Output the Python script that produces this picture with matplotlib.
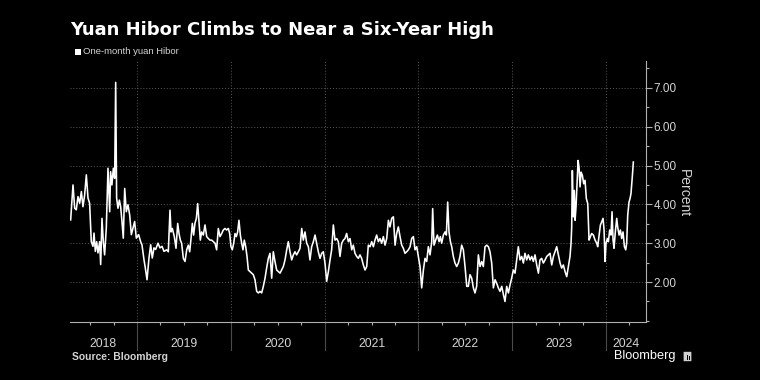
import matplotlib
matplotlib.use("Agg")
import matplotlib.pyplot as plt
from matplotlib.ticker import FixedLocator, MultipleLocator, NullFormatter
import matplotlib.patches as mpatches

plt.rcParams['font.family'] = ['Liberation Sans', 'DejaVu Sans']

# ---------------- data (decimal years, percent) ----------------
dates_2018 = [2018.293, 2018.318, 2018.336, 2018.353, 2018.371, 2018.389, 2018.407, 2018.424, 2018.442, 2018.460,
              2018.478, 2018.495, 2018.513, 2018.531, 2018.542, 2018.556, 2018.570, 2018.584, 2018.602, 2018.613,
              2018.627, 2018.641, 2018.655, 2018.673, 2018.691, 2018.709, 2018.719, 2018.733, 2018.748, 2018.762,
              2018.773, 2018.783, 2018.797, 2018.812, 2018.826, 2018.840, 2018.854, 2018.869, 2018.886, 2018.904,
              2018.922, 2018.940, 2018.957, 2018.975, 2018.993, 2019.018, 2019.039, 2019.053, 2019.075, 2019.089,
              2019.107, 2019.128, 2019.146, 2019.163, 2019.181, 2019.199, 2019.224, 2019.245, 2019.267, 2019.288]
hibor_2018 = [3.60, 4.50, 3.90, 3.86, 4.20, 4.03, 4.33, 3.94, 4.24, 4.76,
              4.16, 4.03, 3.04, 2.92, 3.26, 2.79, 3.04, 2.75, 3.04, 2.45,
              3.64, 3.04, 2.70, 3.39, 4.93, 3.81, 4.84, 4.50, 4.93, 4.67,
              7.14, 4.16, 3.90, 4.11, 3.94, 3.56, 3.13, 4.41, 3.81, 3.99,
              3.73, 3.22, 3.39, 3.56, 3.13, 3.22, 3.04, 2.96, 2.57, 2.36,
              2.06, 2.62, 2.96, 2.62, 2.88, 2.84, 3.00, 2.88, 2.92, 2.79]

dates_2019 = [2019.316, 2019.334, 2019.352, 2019.363, 2019.377, 2019.398, 2019.416, 2019.434, 2019.448, 2019.462,
              2019.476, 2019.494, 2019.512, 2019.530, 2019.547, 2019.562, 2019.576, 2019.590, 2019.604, 2019.618,
              2019.633, 2019.647, 2019.661, 2019.675, 2019.689, 2019.707, 2019.725, 2019.743, 2019.761, 2019.778,
              2019.796, 2019.814, 2019.832, 2019.849, 2019.867, 2019.885, 2019.903, 2019.920, 2019.938, 2019.956,
              2019.974, 2019.988, 2020.002, 2020.016, 2020.031, 2020.045, 2020.059, 2020.073, 2020.087, 2020.102,
              2020.116, 2020.130, 2020.144, 2020.159, 2020.173, 2020.187, 2020.205, 2020.223, 2020.240, 2020.258,
              2020.276, 2020.294, 2020.311, 2020.329, 2020.347, 2020.365]
hibor_2019 = [2.83, 2.78, 3.85, 3.29, 3.38, 3.17, 2.87, 3.51, 3.25, 3.08,
              3.00, 2.61, 2.53, 2.83, 2.95, 2.78, 3.12, 3.51, 3.21, 3.51,
              3.64, 4.02, 3.55, 3.08, 3.29, 3.21, 3.47, 3.17, 3.12, 3.08,
              3.08, 3.04, 3.00, 2.83, 3.38, 3.17, 3.25, 3.34, 3.38, 3.34,
              3.38, 3.25, 2.91, 2.83, 3.00, 3.25, 3.17, 3.29, 3.59, 3.21,
              3.00, 2.83, 3.08, 2.91, 2.66, 2.31, 2.27, 2.23, 2.19, 2.06,
              1.76, 1.72, 1.76, 1.72, 1.89, 2.10]

dates_2020 = [2020.382, 2020.400, 2020.418, 2020.436, 2020.453, 2020.471, 2020.489, 2020.507, 2020.525, 2020.542,
              2020.560, 2020.578, 2020.596, 2020.613, 2020.631, 2020.649, 2020.667, 2020.684, 2020.702, 2020.720,
              2020.738, 2020.756, 2020.773, 2020.791, 2020.809, 2020.827, 2020.844, 2020.862, 2020.880, 2020.898,
              2020.915, 2020.933, 2020.951, 2020.969, 2020.986, 2021.004, 2021.022, 2021.040, 2021.058, 2021.075,
              2021.093, 2021.111, 2021.129, 2021.146, 2021.164, 2021.182, 2021.200, 2021.217, 2021.235, 2021.253,
              2021.271, 2021.289, 2021.306, 2021.324, 2021.342, 2021.360, 2021.377]
hibor_2020 = [2.36, 2.61, 2.74, 2.10, 2.78, 2.53, 2.31, 2.27, 2.23, 2.31,
              2.40, 2.57, 2.83, 3.04, 2.78, 2.57, 2.70, 2.78, 2.70, 2.78,
              2.87, 3.38, 3.08, 3.29, 3.00, 2.91, 2.57, 2.91, 3.04, 3.21,
              3.00, 2.78, 2.61, 2.74, 2.78, 2.49, 2.02, 2.27, 2.57, 2.83,
              3.47, 3.08, 3.12, 3.04, 2.66, 3.00, 3.08, 3.12, 3.25, 3.04,
              3.12, 2.83, 2.95, 2.74, 2.66, 2.61, 2.70]

dates_2021 = [2021.395, 2021.413, 2021.431, 2021.449, 2021.466, 2021.484, 2021.502, 2021.520, 2021.537, 2021.555,
              2021.573, 2021.591, 2021.608, 2021.626, 2021.644, 2021.662, 2021.680, 2021.697, 2021.715, 2021.733,
              2021.751, 2021.768, 2021.786, 2021.804, 2021.822, 2021.839, 2021.857, 2021.875, 2021.893, 2021.911,
              2021.928, 2021.946, 2021.964, 2021.982, 2021.999, 2022.017, 2022.035, 2022.053, 2022.070, 2022.088,
              2022.106, 2022.124, 2022.142, 2022.152, 2022.166, 2022.184, 2022.202, 2022.220, 2022.234, 2022.248,
              2022.266, 2022.284, 2022.298, 2022.312, 2022.326, 2022.341, 2022.355, 2022.372, 2022.390]
hibor_2021 = [2.61, 2.44, 2.31, 2.40, 2.95, 2.91, 3.04, 2.91, 3.08, 3.21,
              3.04, 3.12, 3.00, 3.17, 2.95, 3.12, 3.59, 3.42, 3.64, 3.68,
              2.95, 3.25, 3.42, 3.17, 2.95, 2.87, 2.74, 2.78, 2.83, 2.91,
              3.12, 3.17, 2.83, 2.91, 2.66, 2.40, 1.85, 2.31, 2.61, 2.53,
              2.91, 2.70, 3.04, 3.89, 2.95, 3.08, 3.21, 3.04, 3.17, 3.00,
              3.21, 3.29, 3.21, 4.06, 3.29, 3.04, 2.91, 2.66, 2.49]

dates_2022 = [2022.408, 2022.426, 2022.443, 2022.461, 2022.479, 2022.497, 2022.515, 2022.532, 2022.550, 2022.568,
              2022.586, 2022.603, 2022.621, 2022.639, 2022.657, 2022.675, 2022.692, 2022.710, 2022.728, 2022.746,
              2022.763, 2022.781, 2022.799, 2022.817, 2022.834, 2022.852, 2022.870, 2022.888, 2022.906, 2022.923,
              2022.941, 2022.959, 2022.977, 2022.994, 2023.012, 2023.030, 2023.048, 2023.065, 2023.083, 2023.101,
              2023.119, 2023.136, 2023.154, 2023.172, 2023.190, 2023.208, 2023.225, 2023.243, 2023.261, 2023.279,
              2023.296, 2023.314, 2023.332, 2023.350, 2023.368, 2023.385, 2023.403]
hibor_2022 = [2.40, 2.49, 2.66, 2.95, 2.83, 2.40, 1.89, 1.89, 2.19, 2.10,
              1.85, 1.72, 1.89, 2.70, 2.40, 2.53, 2.40, 2.91, 2.95, 2.91,
              2.78, 2.49, 1.85, 2.06, 1.97, 1.85, 1.76, 1.89, 1.68, 1.50,
              1.89, 1.72, 1.93, 2.10, 2.31, 2.23, 2.57, 2.91, 2.57, 2.66,
              2.49, 2.74, 2.57, 2.70, 2.57, 2.66, 2.53, 2.70, 2.44, 2.23,
              2.57, 2.61, 2.49, 2.57, 2.66, 2.70, 2.74]

dates_2023 = [2023.421, 2023.439, 2023.456, 2023.474, 2023.492, 2023.510, 2023.527, 2023.545, 2023.563, 2023.581,
              2023.598, 2023.616, 2023.627, 2023.634, 2023.641, 2023.652, 2023.662, 2023.670, 2023.680, 2023.691,
              2023.702, 2023.712, 2023.723, 2023.734, 2023.748, 2023.762, 2023.776, 2023.790, 2023.805, 2023.819,
              2023.833, 2023.847, 2023.865, 2023.883, 2023.901, 2023.911, 2023.925, 2023.940, 2023.954, 2023.968,
              2023.979, 2023.989, 2024.000, 2024.014, 2024.025, 2024.039, 2024.053, 2024.064, 2024.075, 2024.085,
              2024.099, 2024.114, 2024.124, 2024.139, 2024.153, 2024.167, 2024.181, 2024.196, 2024.210, 2024.220,
              2024.231, 2024.245, 2024.256, 2024.266, 2024.281, 2024.291]
hibor_2023 = [2.44, 2.66, 2.78, 2.91, 2.70, 2.49, 2.36, 2.44, 2.27, 2.14,
              2.40, 2.66, 3.00, 3.42, 4.87, 3.68, 4.36, 3.59, 3.93, 4.53,
              5.13, 4.96, 4.45, 4.83, 4.74, 4.53, 4.62, 4.15, 4.02, 3.08,
              3.17, 3.25, 3.21, 3.08, 3.00, 2.91, 3.17, 3.47, 3.55, 3.64,
              3.34, 2.53, 3.00, 3.12, 3.04, 3.34, 3.21, 3.81, 3.08, 2.87,
              3.29, 3.64, 3.42, 3.21, 3.34, 3.12, 3.29, 2.91, 2.83, 3.00,
              3.72, 4.06, 4.15, 4.28, 4.74, 5.09]

year_labels = ['2018', '2019', '2020', '2021', '2022', '2023', '2024']
y_ticks = [2, 3, 4, 5, 6, 7]
x_range = (2018.286, 2024.426)
y_range = (0.98, 7.69)

title = 'Yuan Hibor Climbs to Near a Six-Year High'
series_name = 'One-month yuan Hibor'
source = 'Source: Bloomberg'

dates = dates_2018 + dates_2019 + dates_2020 + dates_2021 + dates_2022 + dates_2023
hibor = hibor_2018 + hibor_2019 + hibor_2020 + hibor_2021 + hibor_2022 + hibor_2023

# ---------------- figure ----------------
W, H = 760, 380
fig = plt.figure(figsize=(W / 100, H / 100), dpi=100, facecolor='black')
ax = fig.add_axes([70 / W, 1 - 321.7 / H, 576 / W, 260.7 / H])
ax.set_facecolor('black')

ax.plot(dates, hibor, color='white', lw=1.15, solid_joinstyle='round', zorder=3)
ax.set_xlim(*x_range)
ax.set_ylim(*y_range)

grid_col = '#5a5a5a'
axis_col = '#b0b0b0'
text_col = '#d4d4d4'

# y axis on the right
ax.yaxis.tick_right()
ax.set_yticks(y_ticks)
ax.set_yticklabels([f'{v:.2f}' for v in y_ticks])
ax.yaxis.set_minor_locator(MultipleLocator(0.5))
ax.tick_params(axis='y', which='major', length=4, width=0.8, color=axis_col,
               labelcolor=text_col, labelsize=8.5, pad=1.5)
ax.tick_params(axis='y', which='minor', length=2, width=0.8, color=axis_col)

# x axis: year boundaries as grid, quarterly minor ticks
years = [int(y) for y in year_labels]
ax.xaxis.set_major_locator(FixedLocator(years[1:]))
ax.xaxis.set_major_formatter(NullFormatter())
ax.xaxis.set_minor_locator(MultipleLocator(0.25))
ax.tick_params(axis='x', which='major', length=0)
ax.tick_params(axis='x', which='minor', length=2.5, width=0.8, color=axis_col)

for s in ['left', 'top']:
    ax.spines[s].set_visible(False)
for s in ['right', 'bottom']:
    ax.spines[s].set_color(axis_col)
    ax.spines[s].set_linewidth(0.8)

ax.grid(True, which='major', axis='both', color=grid_col, linestyle=(0, (1, 2)), lw=0.7)
ax.set_axisbelow(True)

# year separators below the axis and year labels
xt = ax.get_xaxis_transform()
for y in years[1:]:
    ax.plot([y, y], [0, -0.11], transform=xt, color='#4a4a4a', lw=0.8, clip_on=False)
for y, lab in zip(years, year_labels):
    lo = max(y, x_range[0])
    hi = min(y + 1, x_range[1])
    ax.text((lo + hi) / 2, -0.085, lab, transform=xt, ha='center', va='center',
            color=text_col, fontsize=8.8)

# axis title
fig.text(684 / W, 1 - 193 / H, 'Percent', rotation=270, ha='center', va='center',
         color=text_col, fontsize=10)

# title and legend
fig.text(70 / W, 1 - 35 / H, title, ha='left', va='baseline', color='white',
         fontsize=13.0, fontweight='bold', family=['DejaVu Sans'])
fig.patches.append(mpatches.Rectangle((75 / W, 1 - 54.5 / H), 5.5 / W, 5.5 / H,
                                      transform=fig.transFigure, facecolor='white',
                                      edgecolor='none'))
fig.text(83 / W, 1 - 51.8 / H, series_name, ha='left', va='center', color=text_col,
         fontsize=6.8)

# footer
fig.text(72 / W, 1 - 357 / H, source, ha='left', va='center', color=text_col,
         fontsize=7.4, fontweight='bold')
fig.text(614 / W, 1 - 356 / H, 'Bloomberg', ha='left', va='center', color='white',
         fontsize=9.2)
fig.patches.append(mpatches.FancyBboxPatch((684 / W, 1 - 361 / H), 7 / W, 9 / H,
                                           boxstyle='round,pad=0.0005',
                                           transform=fig.transFigure,
                                           facecolor='#d0d0d0', edgecolor='none'))
for i, hgt in enumerate([3, 5, 4]):
    fig.patches.append(mpatches.Rectangle(((685.5 + 1.6 * i) / W, 1 - 359.5 / H),
                                          0.9 / W, hgt / H,
                                          transform=fig.transFigure,
                                          facecolor='black', edgecolor='none'))

fig.savefig('out.png', dpi=100, facecolor='black')
